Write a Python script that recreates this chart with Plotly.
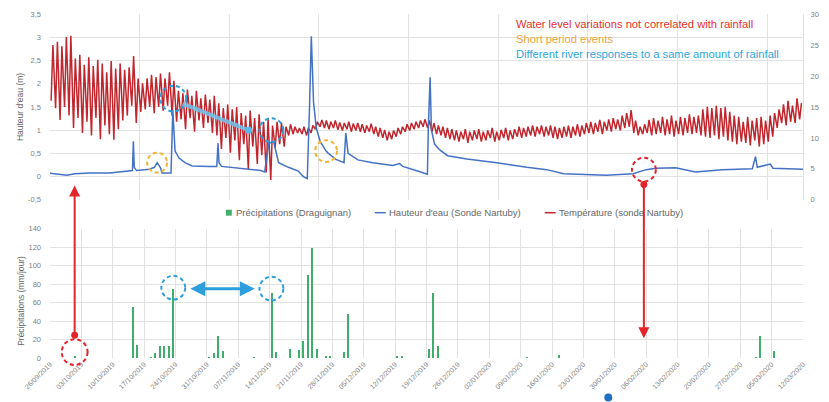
import pandas as pd
import plotly.graph_objects as go

START = pd.Timestamp("2019-09-26")
END = pd.Timestamp("2020-03-12")
DAY_MS = 86400000

# Daily rainfall, Draguignan (mm/jour)
rain_dates = ["2019-10-01", "2019-10-14", "2019-10-15", "2019-10-18", "2019-10-19",
              "2019-10-20", "2019-10-21", "2019-10-22", "2019-10-23", "2019-10-31",
              "2019-11-01", "2019-11-02", "2019-11-03", "2019-11-10", "2019-11-14",
              "2019-11-15", "2019-11-18", "2019-11-20", "2019-11-21", "2019-11-22",
              "2019-11-23", "2019-11-24", "2019-11-26", "2019-11-27", "2019-11-30",
              "2019-12-01", "2019-12-12", "2019-12-13", "2019-12-19", "2019-12-20",
              "2019-12-21", "2020-01-10", "2020-01-17", "2020-03-01", "2020-03-02",
              "2020-03-05"]
rain_mm = [3, 56, 15, 2, 6,
           14, 14, 14, 75, 2,
           6, 24, 8, 1, 71,
           7, 10, 9, 19, 90,
           120, 10, 3, 3, 7,
           48, 3, 3, 10, 71,
           13, 2, 4, 1, 24,
           8]

# Water level, Sonde Nartuby (days since 26/09/2019, metres)
level_day = [0, 1.8, 3.8, 5.5, 8.9, 13.3, 17.7, 18.4, 18.6, 18.8, 19.3, 22.2, 23.3, 23.9,
             24.6, 25.0, 27.0, 27.4, 27.9, 28.8, 30.1, 31.7, 35.5, 37.2, 37.5, 37.7, 38.3,
             41.0, 45.0, 47.0, 47.9, 48.3, 48.8, 49.9, 51.0, 53.2, 55.4, 56.5, 57.4, 57.9,
             58.3, 58.8, 59.4, 60.3, 61.2, 61.6, 62.1, 63.8, 65.6, 66.0, 66.5, 68.7, 72.0,
             76.5, 78.0, 78.7, 82.0, 84.2, 84.4, 84.8, 85.1, 85.8, 86.9, 88.7, 93.0, 99.7,
             106.4, 110.8, 114.6, 119.7, 124.1, 130.1, 133.0, 135.2, 139.6, 144.0, 150.0,
             156.7, 157.4, 157.8, 160.7, 161.3, 166.2, 168.0]
level_m = [0.07, 0.05, 0.03, 0.06, 0.08, 0.08, 0.12, 0.13, 0.76, 0.20, 0.13, 0.16, 0.20, 0.30,
           0.20, 0.08, 0.08, 1.43, 0.55, 0.40, 0.30, 0.23, 0.22, 0.22, 0.72, 0.30, 0.22,
           0.19, 0.15, 0.13, 0.10, 0.40, 0.72, 0.75, 0.30, 0.20, 0.12, 0.00, -0.04, 1.50,
           3.02, 1.60, 1.05, 0.75, 0.60, 0.55, 0.50, 0.37, 0.30, 0.94, 0.50, 0.36, 0.30,
           0.24, 0.28, 0.22, 0.12, 0.05, 1.00, 2.14, 1.00, 0.70, 0.58, 0.45, 0.38, 0.30,
           0.20, 0.15, 0.06, 0.04, 0.03, 0.06, 0.15, 0.18, 0.19, 0.10, 0.15,
           0.17, 0.43, 0.20, 0.27, 0.18, 0.17, 0.16]

# Water temperature, Sonde Nartuby: daily maximum / minimum (°C)
temp_max = [25.0, 25.5, 24.8, 26.3, 26.5, 22.8, 23.4, 21.8, 23.0, 21.6,
            22.6, 22.0, 20.6, 22.4, 21.2, 22.0, 21.0, 21.4, 23.2, 19.6,
            18.8, 19.6, 20.2, 19.8, 20.4, 19.6, 20.6, 19.2, 17.6, 17.2,
            17.8, 16.8, 17.6, 16.4, 17.0, 16.2, 16.8, 15.6, 14.8, 15.4,
            14.6, 15.0, 14.0, 13.6, 14.4, 13.2, 13.8, 12.6, 13.2, 12.0,
            12.6, 12.4, 11.8, 12.2, 11.8, 11.6, 11.8, 11.6, 12.0, 12.6,
            12.9, 12.8, 12.6, 12.8, 12.5, 12.4, 12.6, 12.3, 12.4, 12.2,
            12.0, 12.3, 11.8, 11.6, 11.3, 11.0, 11.2, 11.6, 11.8, 12.2,
            12.4, 12.6, 12.8, 13.0, 12.8, 12.4, 12.0, 11.8, 11.6, 11.4,
            11.2, 11.0, 11.4, 11.0, 11.2, 11.4, 11.0, 11.2, 11.6, 11.0,
            11.3, 11.6, 11.2, 11.4, 11.8, 11.6, 11.8, 12.0, 11.8, 12.0,
            11.8, 12.0, 11.8, 11.6, 11.8, 12.0, 11.8, 12.2, 12.0, 12.4,
            12.6, 12.4, 12.9, 12.6, 13.0, 13.2, 13.0, 13.6, 14.0, 14.5,
            12.8, 11.8, 12.2, 12.9, 13.2, 12.8, 13.4, 13.0, 13.6, 12.8,
            13.4, 13.2, 13.8, 13.4, 13.6, 14.6, 15.0, 14.8, 15.2, 14.8,
            15.0, 14.2, 13.6, 13.4, 12.6, 13.4, 12.8, 13.2, 13.4, 12.8,
            13.6, 14.0, 14.6, 15.4, 16.0, 15.2, 16.4, 15.6]
temp_min = [16.0, 14.8, 12.9, 15.0, 13.6, 11.6, 13.2, 10.8, 12.6, 10.4,
            13.2, 9.8, 12.0, 10.6, 9.7, 11.4, 12.8, 13.6, 15.2, 12.4,
            14.2, 14.6, 15.0, 14.0, 15.0, 14.4, 15.2, 13.6, 12.6, 13.0,
            11.4, 13.2, 11.0, 12.8, 11.6, 12.4, 10.8, 10.4, 8.2, 10.0,
            7.6, 9.6, 6.4, 9.0, 5.0, 8.6, 5.8, 7.2, 4.4, 3.2,
            8.4, 9.0, 8.6, 10.4, 10.6, 10.8, 10.6, 10.4, 10.8, 11.4,
            11.8, 11.6, 11.4, 11.6, 11.3, 11.2, 11.4, 11.0, 11.2, 11.0,
            10.8, 11.0, 10.6, 10.2, 10.0, 9.6, 9.8, 10.2, 10.6, 11.0,
            11.2, 11.4, 11.6, 11.8, 11.6, 11.0, 10.6, 10.4, 10.0, 9.8,
            9.6, 9.4, 9.8, 9.2, 9.6, 9.8, 9.4, 9.6, 10.0, 9.4,
            9.6, 10.0, 9.6, 9.8, 10.2, 10.0, 10.2, 10.4, 10.2, 10.6,
            10.2, 10.4, 10.0, 9.8, 10.0, 10.2, 10.0, 10.4, 10.2, 10.6,
            10.8, 10.6, 11.0, 10.6, 11.2, 11.0, 11.4, 11.2, 11.6, 11.8,
            10.8, 10.4, 10.6, 10.8, 10.4, 10.6, 10.8, 10.4, 10.6, 10.2,
            10.6, 10.4, 10.8, 10.6, 10.8, 10.4, 10.2, 10.0, 10.4, 9.8,
            10.2, 9.6, 9.4, 9.0, 9.4, 9.2, 8.8, 9.6, 8.6, 9.0,
            9.4, 10.2, 11.6, 12.4, 12.0, 12.6, 12.4, 13.0]

level_ticks = [-0.5, 0, 0.5, 1, 1.5, 2, 2.5, 3, 3.5]
level_ticktext = ["-0,5", "0", "0,5", "1", "1,5", "2", "2,5", "3", "3,5"]
temp_ticks = [0, 5, 10, 15, 20, 25, 30]
rain_ticks = [0, 20, 40, 60, 80, 100, 120, 140]

LEVEL_RANGE = [-0.5, 3.5]
TEMP_RANGE = [0, 30]
RAIN_RANGE = [0, 140]

GREEN = "#3fae6d"
BLUE = "#4472c4"
RED = "#c0262d"
MARK_RED = "#e3242b"
MARK_ORANGE = "#f2b233"
MARK_BLUE = "#2c9fdc"
GRID = "#e2e2e2"
TXT = "#7f7f7f"
FONT = "Liberation Sans"
RING_DASH = "4px,3px"

W, H = 829, 402
ML, MR, MT, MB = 50, 21, 10, 44
PW, PH = W - ML - MR, H - MT - MB
TOP_BOTTOM_PX, BOT_TOP_PX = 198, 227   # pixel rows where the two panels end


def fx(px):
    return (px - ML) / PW


def fy(py):
    return (H - MB - py) / PH


def at(d):
    return (START + pd.Timedelta(days=d)).strftime("%Y-%m-%d %H:%M:%S")


SPAN_DAYS = (END - START) / pd.Timedelta(days=1)


def day_px(d):
    return ML + d / SPAN_DAYS * PW


def level_py(v):
    lo, hi = LEVEL_RANGE
    return TOP_BOTTOM_PX - (v - lo) / (hi - lo) * (TOP_BOTTOM_PX - MT)


def rain_py(v):
    lo, hi = RAIN_RANGE
    return (H - MB) - (v - lo) / (hi - lo) * ((H - MB) - BOT_TOP_PX)


level_x = [at(d) for d in level_day]
temp_x, temp_y = [], []
for d, (lo, hi) in enumerate(zip(temp_min, temp_max)):
    temp_x += [at(d + 0.25), at(d + 0.65)]
    temp_y += [lo, hi]
rain_x = [(pd.Timestamp(s) + pd.Timedelta(hours=12)).strftime("%Y-%m-%d %H:%M:%S")
          for s in rain_dates]

fig = go.Figure()
fig.add_trace(go.Scatter(x=temp_x, y=temp_y, xaxis="x", yaxis="y", mode="lines",
                         line=dict(color=RED, width=1.5), showlegend=False,
                         name="Température (sonde Nartuby)"))
fig.add_trace(go.Scatter(x=level_x, y=level_m, xaxis="x", yaxis="y3", mode="lines",
                         line=dict(color=BLUE, width=1.5), showlegend=False,
                         name="Hauteur d'eau (Sonde Nartuby)"))
fig.add_trace(go.Bar(x=rain_x, y=rain_mm, xaxis="x2", yaxis="y2",
                     marker=dict(color=GREEN, line=dict(width=0)),
                     width=0.45 * DAY_MS, showlegend=False,
                     name="Précipitations (Draguignan)"))

tickfont = dict(family=FONT, size=7.5, color=TXT)
top_dom = [fy(TOP_BOTTOM_PX), 1]
bot_dom = [0, fy(BOT_TOP_PX)]

fig.update_layout(
    width=W, height=H,
    margin=dict(l=ML, r=MR, t=MT, b=MB),
    paper_bgcolor="white", plot_bgcolor="white",
    bargap=0,
    xaxis=dict(domain=[0, 1], anchor="y", type="date", range=[START, END],
               tick0=START, dtick=20 * DAY_MS, showticklabels=False, ticks="",
               showgrid=True, gridcolor=GRID, gridwidth=1, zeroline=False, showline=False),
    yaxis=dict(domain=top_dom, anchor="x", side="right", range=TEMP_RANGE,
               tickvals=temp_ticks, showgrid=False, zeroline=False,
               showline=True, linecolor=GRID, ticks="", tickfont=tickfont,
               ticklabelstandoff=5),
    yaxis3=dict(overlaying="y", anchor="x", side="left", range=LEVEL_RANGE,
                tickvals=level_ticks, ticktext=level_ticktext, showgrid=True,
                gridcolor=GRID, zeroline=False, showline=False, ticks="",
                tickfont=tickfont, ticklabelstandoff=8),
    xaxis2=dict(domain=[0, 1], anchor="y2", type="date", range=[START, END],
                tick0=START, dtick=7 * DAY_MS, tickformat="%d/%m/%Y", tickangle=-45,
                showgrid=True, gridcolor=GRID, zeroline=False, showline=False,
                ticks="", tickfont=dict(family=FONT, size=7, color=TXT)),
    yaxis2=dict(domain=bot_dom, anchor="x2", range=RAIN_RANGE, tickvals=rain_ticks,
                showgrid=True, gridcolor=GRID, zeroline=False, showline=False,
                ticks="", tickfont=tickfont, ticklabelstandoff=8),
)

shapes = []
annotations = []


def ring(cx, cy, r, color, fill=False, width=2):
    shapes.append(dict(type="circle", xref="paper", yref="paper",
                       x0=fx(cx - r), x1=fx(cx + r), y0=fy(cy + r), y1=fy(cy - r),
                       line=dict(color=color, width=0 if fill else width, dash=RING_DASH),
                       fillcolor=color if fill else "rgba(0,0,0,0)"))


# Marked events on the water level curve
ring(day_px(23.9), level_py(0.30), 10, MARK_ORANGE)
ring(day_px(61.6), level_py(0.55), 11, MARK_ORANGE)
ring(day_px(27.5), level_py(1.68), 13, MARK_BLUE)
ring(day_px(49.4), level_py(1.00), 12, MARK_BLUE)
ring(day_px(132.5), level_py(0.15), 12, MARK_RED)
shapes.append(dict(type="line", xref="paper", yref="paper",
                   x0=fx(day_px(29.6)), y0=fy(level_py(1.57)),
                   x1=fx(day_px(44.3)), y1=fy(level_py(1.0)),
                   line=dict(color="rgba(110,195,240,0.85)", width=4)))
ring(day_px(44.3), level_py(1.0), 3.5, "#5bb8ea", fill=True)

# Marked rainfall days
ring(day_px(5.5), rain_py(6.4), 13, MARK_RED)
ring(day_px(27.5), rain_py(76), 12, MARK_BLUE)
ring(day_px(49.4), rain_py(75), 12, MARK_BLUE)

# Connecting arrows between rainfall and water level
ring(day_px(5.5), rain_py(24.6), 3.5, MARK_RED, fill=True)
annotations.append(dict(xref="x", yref="y3", x=at(5.5), y=-0.19, ax=0, ay=152,
                        text="", showarrow=True, arrowhead=2, arrowsize=1.1,
                        arrowwidth=2, arrowcolor=MARK_RED, standoff=0, startstandoff=0))
ring(day_px(132.5), level_py(-0.17), 3.5, MARK_RED, fill=True)
annotations.append(dict(xref="x2", yref="y2", x=at(132.5), y=21.4, ax=0, ay=-155,
                        text="", showarrow=True, arrowhead=2, arrowsize=1.1,
                        arrowwidth=2, arrowcolor=MARK_RED, standoff=0, startstandoff=0))
annotations.append(dict(xref="x2", yref="y2", x=at(45.7), y=75, ax=-66, ay=0,
                        text="", showarrow=True, arrowhead=2, arrowsize=1,
                        arrowside="end+start", arrowwidth=3, arrowcolor=MARK_BLUE,
                        standoff=0, startstandoff=0))

# Comments in the upper right corner
notes = [("Water level variations not correlated with rainfall", "#e5312b", 20),
         ("Short period events", "#f0a440", 35),
         ("Different river responses to a same amount of rainfall", "#2ea6df", 50)]
for text, color, ypx in notes:
    annotations.append(dict(xref="paper", yref="paper", x=fx(517), y=fy(ypx),
                            xanchor="left", yanchor="middle", text=text, showarrow=False,
                            font=dict(family=FONT, size=11.2, color=color)))

# Axis titles
annotations.append(dict(xref="paper", yref="paper", x=fx(20), y=fy(104), text="Hauteur d'eau (m)",
                        textangle=-90, showarrow=False, xanchor="center", yanchor="middle",
                        font=dict(family=FONT, size=8.5, color="#666666")))
annotations.append(dict(xref="paper", yref="paper", x=fx(20), y=fy(300),
                        text="Précipitations (mm/jour)", textangle=-90, showarrow=False,
                        xanchor="center", yanchor="middle",
                        font=dict(family=FONT, size=8.5, color="#666666")))

# Legend row between the two panels
ly = 211
shapes.append(dict(type="rect", xref="paper", yref="paper", x0=fx(227), x1=fx(233),
                   y0=fy(214), y1=fy(208), fillcolor=GREEN, line=dict(width=0)))
shapes.append(dict(type="line", xref="paper", yref="paper", x0=fx(377), x1=fx(388),
                   y0=fy(ly), y1=fy(ly), line=dict(color=BLUE, width=1.5)))
shapes.append(dict(type="line", xref="paper", yref="paper", x0=fx(548), x1=fx(559),
                   y0=fy(ly), y1=fy(ly), line=dict(color=RED, width=1.5)))
for text, xpx in [("Précipitations (Draguignan)", 235),
                  ("Hauteur d'eau (Sonde Nartuby)", 389),
                  ("Température (sonde Nartuby)", 560)]:
    annotations.append(dict(xref="paper", yref="paper", x=fx(xpx), y=fy(ly),
                            xanchor="left", yanchor="middle", text=text, showarrow=False,
                            font=dict(family=FONT, size=9.5, color="#666666")))

# small blue dot below the axis
shapes.append(dict(type="circle", xref="paper", yref="paper", x0=fx(608), x1=fx(616),
                   y0=fy(402), y1=fy(394), fillcolor="#1f6fc5", line=dict(width=0)))

fig.update_layout(shapes=shapes, annotations=annotations)
fig.write_html("out.html")
